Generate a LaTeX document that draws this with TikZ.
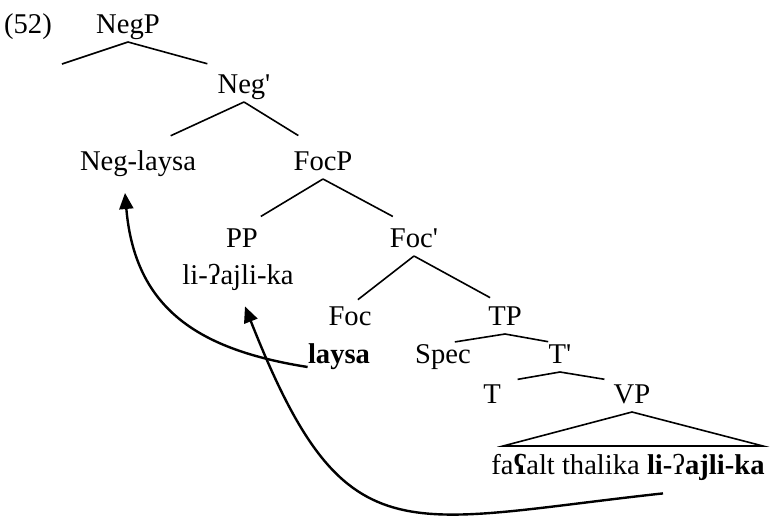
\documentclass[tikz,border=0pt]{standalone}
\usepackage{fontspec}
\setmainfont{Liberation Serif}
\usetikzlibrary{arrows.meta}

\begin{document}
\begin{tikzpicture}[x=0.5pt, y=-0.5pt,
        font=\fontsize{14.3}{17}\selectfont,
        treelabel/.style={anchor=base, inner sep=0pt, text height=9.4pt, text depth=4.3pt},
        branch/.style={line width=0.8pt},
        movearrow/.style={line width=1.2pt, -{Triangle[length=8pt, width=7pt]}}]
    \useasboundingbox (0,0) rectangle (772,515);
    \newcommand*\prm{\textquotesingle}

    \begin{scope}[every node/.append style={treelabel}]
        % EXAMPLE NUMBER
        \node (exnum) at (28,33) {(52)};

        % NEG LEVEL
        \node (negp)     at (128,33)  {NegP};
        \node (negbar)   at (244,93)  {Neg\prm};
        \node (neglaysa) at (138,170) {Neg-laysa};

        % FOC LEVEL
        \node (focp)   at (323,170) {FocP};
        \node (pp)     at (242,247) {PP};
        \node (pplex)  at (238,284) {li-ʔajli-ka};
        \node (focbar) at (414,247) {Foc\prm};
        \node (foc)    at (350,325) {Foc};
        \node (foclex) at (339,363) {\textbf{laysa}};

        % T LEVEL
        \node (tp)    at (505,325) {TP};
        \node (spec)  at (443,363) {Spec};
        \node (tbar)  at (560,363) {T\prm};
        \node (thead) at (492,403) {T};
        \node (vp)    at (632,403) {VP};
        \node (vpwords) at (628,474)
            {fa\textbf{ʕ}alt thalika \textbf{li-}ʔ\textbf{ajli-ka}};
    \end{scope}

    % empty specifier of NegP and the VP triangle
    \coordinate (negspec) at (62,64);
    \coordinate (vpleft)  at (503,446);
    \coordinate (vpright) at (763,446);

    % Branches, each cut short above the daughter
    \foreach \mother/\daughter/\cut in {negp/negbar/19pt, negbar/neglaysa/18pt,
            negbar/focp/14.5pt, focp/pp/11pt, focp/focbar/12pt, focbar/foc/5pt,
            focbar/tp/8.5pt, tp/spec/6pt, tp/tbar/6pt, tbar/thead/13pt, tbar/vp/14pt}
        \draw[branch, shorten >=\cut] (\mother.south) -- (\daughter.north);
    \draw[branch] (negp.south) -- (negspec);
    \draw[branch] (vp.south) -- (vpleft) -- (vpright) -- cycle;

    % Movement arrows
    \draw[movearrow] ([yshift=-2pt]foclex.base west)
        .. controls (200,350) and (135,310) .. ([shift={(-6.5pt,-7pt)}]neglaysa.south);
    \draw[movearrow] ([shift={(17.5pt,-5.2pt)}]vpwords.south)
        .. controls (400,522) and (345,560) .. ([shift={(3.5pt,-6.7pt)}]pplex.south);
\end{tikzpicture}
\end{document}
